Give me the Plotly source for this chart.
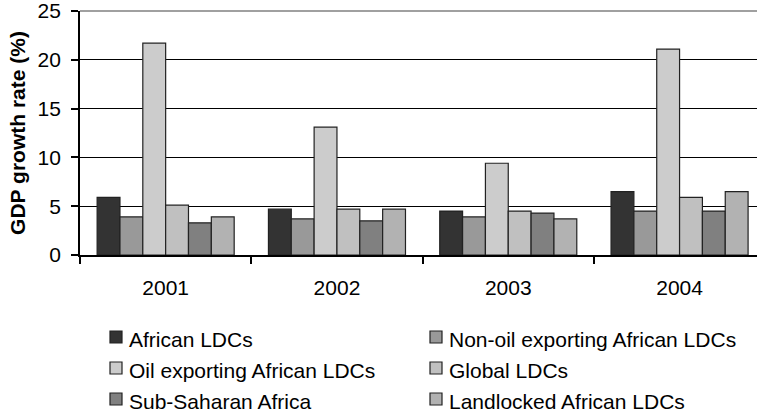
import plotly.graph_objects as go

# GDP growth rates by country group, 2001-2004
years = ["2001", "2002", "2003", "2004"]
series_names = [
    "African LDCs",
    "Non-oil exporting African LDCs",
    "Oil exporting African LDCs",
    "Global LDCs",
    "Sub-Saharan Africa",
    "Landlocked African LDCs",
]
african_ldcs = [5.9, 4.7, 4.5, 6.5]
non_oil_african_ldcs = [3.9, 3.7, 3.9, 4.5]
oil_african_ldcs = [21.7, 13.1, 9.4, 21.1]
global_ldcs = [5.1, 4.7, 4.5, 5.9]
sub_saharan_africa = [3.3, 3.5, 4.3, 4.5]
landlocked_african_ldcs = [3.9, 4.7, 3.7, 6.5]
y_ticks = [0, 5, 10, 15, 20, 25]

series_values = [
    african_ldcs,
    non_oil_african_ldcs,
    oil_african_ldcs,
    global_ldcs,
    sub_saharan_africa,
    landlocked_african_ldcs,
]
fills = ["#333333", "#999999", "#cccccc", "#c0c0c0", "#808080", "#b2b2b2"]

FONT = "Liberation Sans, Arial, sans-serif"
W, H = 757, 417
L, R, T, B = 80, 0, 11, 162
plot_w = W - L - R
plot_h = H - T - B

fig = go.Figure()
for name, vals, col in zip(series_names, series_values, fills):
    fig.add_trace(go.Bar(
        x=years, y=vals, name=name,
        marker=dict(color=col, line=dict(color="#222222", width=1.2)),
        showlegend=False,
    ))

# hand-built two-column legend
def px_x(px):
    return (px - L) / plot_w

def px_y(py):
    return (H - B - py) / plot_h

col_x = [110, 430]
row_y = [337, 368, 399]
shapes = []
annotations = []
for i, (name, col) in enumerate(zip(series_names, fills)):
    cx = col_x[i % 2]
    ry = row_y[i // 2]
    shapes.append(dict(
        type="rect", xref="paper", yref="paper",
        x0=px_x(cx), x1=px_x(cx + 12), y0=px_y(ry + 6), y1=px_y(ry - 6),
        fillcolor=col, line=dict(color="#222222", width=1.2),
    ))
    annotations.append(dict(
        xref="paper", yref="paper", x=px_x(cx + 17), y=px_y(ry + 2),
        xanchor="left", yanchor="middle", showarrow=False,
        text=name, font=dict(family=FONT, size=21, color="#000000"),
    ))

# grey top border of the plot area
shapes.append(dict(
    type="line", xref="paper", yref="paper", x0=0, x1=1, y0=1, y1=1,
    line=dict(color="#808080", width=1.5), layer="above",
))

fig.update_layout(
    width=W, height=H,
    margin=dict(l=L, r=R, t=T, b=B, autoexpand=False),
    paper_bgcolor="white", plot_bgcolor="white",
    barmode="group", bargap=0.2, bargroupgap=0,
    font=dict(family=FONT, size=21, color="#000000"),
    shapes=shapes, annotations=annotations,
    xaxis=dict(
        type="category", range=[-0.5, 3.452],
        showline=True, linecolor="#000000", linewidth=1.7,
        ticks="outside", tickson="boundaries", ticklen=7,
        tickcolor="#000000", tickwidth=1.5,
        showgrid=False, zeroline=False, ticklabelstandoff=13,
        tickfont=dict(family=FONT, size=21, color="#000000"),
        automargin=False,
    ),
    yaxis=dict(
        range=[0, 25.0001], tickvals=y_ticks,
        showline=True, linecolor="#000000", linewidth=1.7,
        ticks="outside", ticklen=7, tickcolor="#000000", tickwidth=1.5,
        showgrid=True, gridcolor="#000000", gridwidth=1,
        zeroline=False, ticklabelstandoff=6,
        ticklabeloverflow="allow",
        tickfont=dict(family=FONT, size=21, color="#000000"),
        title=dict(text="<b>GDP growth rate (%)</b>", standoff=6,
                   font=dict(family=FONT, size=21, color="#000000")),
        automargin=False,
    ),
)

fig.write_html("out.html")
